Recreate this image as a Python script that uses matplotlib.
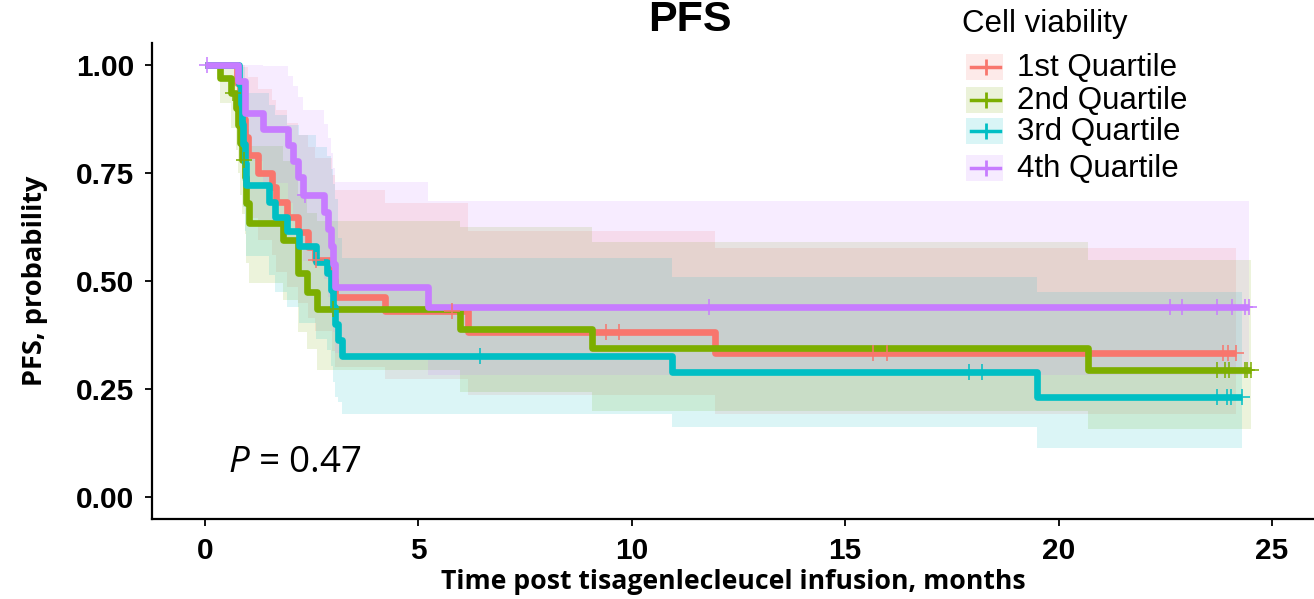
import numpy as np
import matplotlib
matplotlib.use("Agg")
import matplotlib.pyplot as plt
from matplotlib.patches import Rectangle
from matplotlib.lines import Line2D

plt.rcParams['mathtext.fontset'] = 'custom'
plt.rcParams['mathtext.it'] = 'Open Sans:italic'
plt.rcParams['mathtext.rm'] = 'Open Sans'

## dados (tempo em meses, sobrevida, IC superior, IC inferior)
groups = ["1st Quartile", "2nd Quartile", "3rd Quartile", "4th Quartile"]
colors = ["#F8766D", "#7CAE00", "#00BFC4", "#C77CFF"]

q1_t = [0, 0.75, 0.82, 0.88, 0.95, 1.02, 1.24, 1.57, 1.66, 1.92, 2.18, 2.41, 2.58, 2.98, 3.05, 4.22, 6.16, 11.95]
q1_s = [1, 0.958, 0.917, 0.875, 0.833, 0.792, 0.75, 0.717, 0.683, 0.648, 0.613, 0.579, 0.549, 0.502, 0.463, 0.43, 0.382, 0.333]
q1_up = [1, 1.0, 1.0, 1.0, 0.996, 0.972, 0.945, 0.92, 0.895, 0.865, 0.838, 0.81, 0.785, 0.745, 0.71, 0.68, 0.616, 0.576]
q1_lo = [1, 0.882, 0.813, 0.752, 0.697, 0.645, 0.595, 0.56, 0.52, 0.485, 0.448, 0.414, 0.384, 0.338, 0.302, 0.272, 0.237, 0.193]
q1_end = 24.15
q1_cens = [2.6, 5.8, 9.4, 9.7, 15.65, 15.97, 23.85, 23.97, 24.15]

q2_t = [0, 0.35, 0.62, 0.72, 0.78, 0.83, 0.88, 0.93, 0.97, 1.03, 1.83, 2.17, 2.4, 2.62, 5.97, 9.07, 20.7]
q2_s = [1, 0.97, 0.935, 0.90, 0.86, 0.82, 0.78, 0.74, 0.68, 0.634, 0.595, 0.518, 0.475, 0.435, 0.39, 0.345, 0.294]
q2_up = [1, 1.0, 1.0, 1.0, 0.985, 0.96, 0.93, 0.90, 0.853, 0.812, 0.777, 0.702, 0.658, 0.64, 0.625, 0.59, 0.548]
q2_lo = [1, 0.913, 0.855, 0.803, 0.75, 0.70, 0.654, 0.608, 0.542, 0.495, 0.456, 0.382, 0.343, 0.295, 0.243, 0.20, 0.158]
q2_end = 24.5
q2_cens = [0.66, 0.92, 3.0, 23.7, 23.9, 24.0, 24.37, 24.42, 24.5]

q3_t = [0, 0.80, 0.84, 0.87, 0.90, 0.93, 0.96, 1.49, 1.64, 1.93, 2.2, 2.6, 2.85, 2.95, 3.0, 3.05, 3.12, 3.22, 10.94, 19.5]
q3_s = [1, 0.955, 0.91, 0.864, 0.818, 0.773, 0.722, 0.683, 0.648, 0.615, 0.58, 0.544, 0.518, 0.48, 0.44, 0.40, 0.363, 0.327, 0.289, 0.231]
q3_up = [1, 1.0, 1.0, 1.0, 0.996, 0.969, 0.935, 0.908, 0.885, 0.861, 0.837, 0.81, 0.79, 0.76, 0.725, 0.69, 0.60, 0.553, 0.51, 0.474]
q3_lo = [1, 0.872, 0.798, 0.732, 0.672, 0.616, 0.558, 0.513, 0.475, 0.439, 0.402, 0.365, 0.34, 0.303, 0.267, 0.232, 0.22, 0.193, 0.163, 0.113]
q3_end = 24.3
q3_cens = [6.44, 17.9, 18.2, 23.7, 23.95, 24.05, 24.3]

q4_t = [0, 0.77, 0.94, 1.36, 1.94, 2.06, 2.18, 2.3, 2.8, 2.88, 2.95, 3.0, 3.05, 5.22]
q4_s = [1, 0.963, 0.889, 0.852, 0.815, 0.778, 0.741, 0.70, 0.66, 0.62, 0.58, 0.54, 0.486, 0.44]
q4_up = [1, 1.0, 1.0, 0.997, 0.975, 0.951, 0.926, 0.895, 0.863, 0.831, 0.797, 0.761, 0.73, 0.685]
q4_lo = [1, 0.894, 0.778, 0.728, 0.681, 0.636, 0.593, 0.547, 0.505, 0.463, 0.422, 0.383, 0.334, 0.283]
q4_end = 24.45
q4_cens = [0.05, 2.34, 11.8, 22.6, 22.9, 23.7, 24.07, 24.37, 24.45]

curvas = [
    (q1_t, q1_s, q1_up, q1_lo, q1_end, q1_cens),
    (q2_t, q2_s, q2_up, q2_lo, q2_end, q2_cens),
    (q3_t, q3_s, q3_up, q3_lo, q3_end, q3_cens),
    (q4_t, q4_s, q4_up, q4_lo, q4_end, q4_cens),
]

fig = plt.figure(figsize=(13.14, 5.99), dpi=100)
ax = fig.add_axes([152/1314, 1 - 518.6/599, 1 - 152/1314, (518.6 - 43.4)/599])

## faixas de confianca primeiro
for (t, s, up, lo, fim, cens), cor in zip(curvas, colors):
    tt = np.append(t, fim)
    ax.fill_between(tt, np.append(lo, lo[-1]), np.append(up, up[-1]), step='post',
                    color=cor, alpha=0.14, linewidth=0)

## curvas
for (t, s, up, lo, fim, cens), cor in zip(curvas, colors):
    tt = np.append(t, fim)
    ax.step(tt, np.append(s, s[-1]), where='post', color=cor, lw=4.8,
            solid_joinstyle='round', solid_capstyle='butt')

## censuras
for (t, s, up, lo, fim, cens), cor in zip(curvas, colors):
    idx = np.searchsorted(t, cens, side='right') - 1
    ax.plot(cens, np.array(s)[idx], ls='none', marker='+', ms=11, mew=1.3,
            color=cor, alpha=0.85)

ax.set_xlim(-1.24, (1314 - 205) / 42.68)
ax.set_ylim(-0.05, 1.05)
ax.set_xticks([0, 5, 10, 15, 20, 25])
ax.set_yticks([0, 0.25, 0.5, 0.75, 1.0])
ax.set_yticklabels(["0.00", "0.25", "0.50", "0.75", "1.00"])
for lab in ax.get_xticklabels() + ax.get_yticklabels():
    lab.set_fontfamily('Liberation Sans')
    lab.set_fontweight('bold')
    lab.set_fontsize(21.5)
ax.tick_params(length=5, width=1.3, pad=8, color='black')
for lado in ['top', 'right']:
    ax.spines[lado].set_visible(False)
for lado in ['left', 'bottom']:
    ax.spines[lado].set_linewidth(1.6)

ax.set_xlabel("Time post tisagenlecleucel infusion, months", fontfamily='Open Sans',
              fontweight='bold', fontsize=19.2, labelpad=3)
ax.set_ylabel("PFS, probability", fontfamily='Open Sans', fontweight='bold',
              fontsize=19.5, labelpad=20)

ax.text(0.54, 0.078, r"$\mathit{P}$ = 0.47", fontfamily='Open Sans', fontsize=26.5,
        va='center', ha='left')

fig.text(690/1314, 1 - 31/599, "PFS", ha='center', va='baseline',
         fontfamily='Liberation Sans', fontweight='bold', fontsize=31)

## legenda manual
fig.text(962/1314, 1 - 24/599, "Cell viability", ha='left', va='center',
         fontfamily='Liberation Sans', fontsize=22.5)
linhas_y = [67, 100, 131, 168]
for nome, cor, yy in zip(groups, colors, linhas_y):
    yf = 1 - yy/599
    fig.add_artist(Rectangle((966/1314, yf - 13/599), 37/1314, 26/599,
                             transform=fig.transFigure, color=cor, alpha=0.15, lw=0))
    fig.add_artist(Line2D([971/1314, 1000/1314], [yf, yf], transform=fig.transFigure,
                          color=cor, lw=2.5))
    fig.add_artist(Line2D([985.5/1314], [yf], transform=fig.transFigure,
                          color=cor, marker='+', ms=11, mew=2, ls='none'))
    fig.text(1017/1314, yf - 1/599, nome, ha='left', va='center',
             fontfamily='Liberation Sans', fontsize=22.5)

fig.savefig("out.png", dpi=100)
